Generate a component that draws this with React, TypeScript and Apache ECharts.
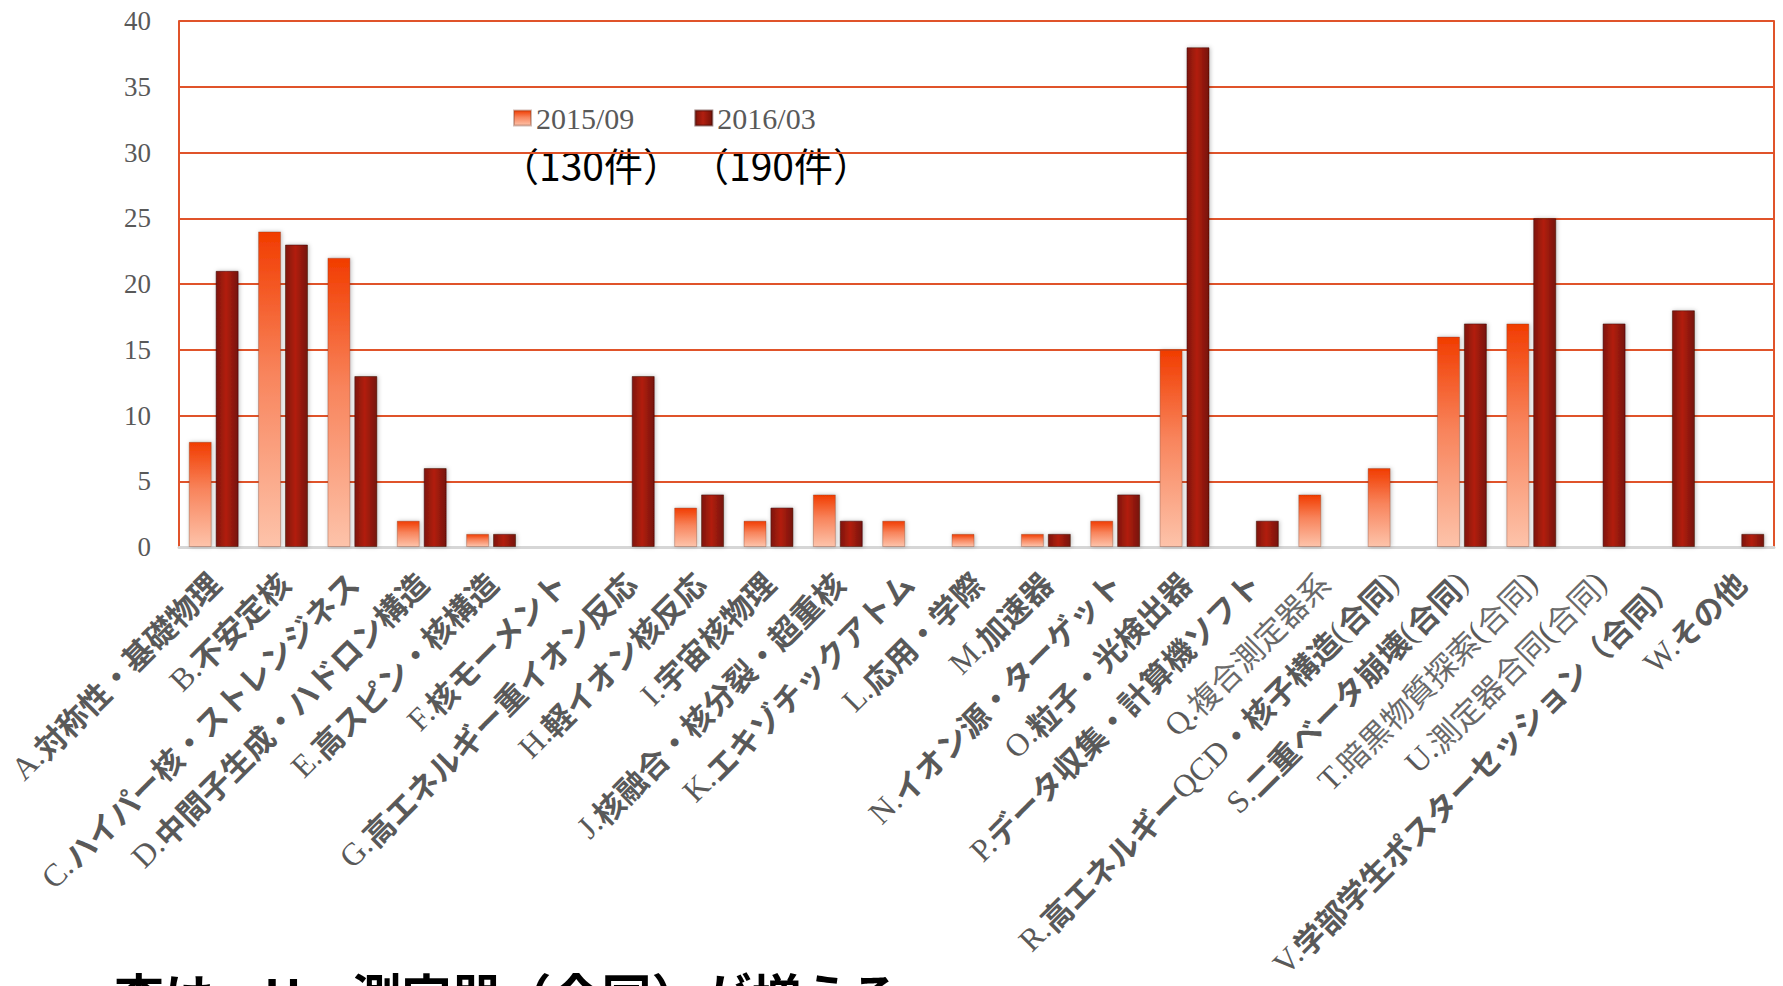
import React, { useEffect, useRef } from "react";
import * as echarts from "echarts";

const categories = [
  "A.対称性・基礎物理",
  "B.不安定核",
  "C.ハイパー核・ストレンジネス",
  "D.中間子生成・ハドロン構造",
  "E.高スピン・核構造",
  "F.核モーメント",
  "G.高エネルギー重イオン反応",
  "H.軽イオン核反応",
  "I.宇宙核物理",
  "J.核融合・核分裂・超重核",
  "K.エキゾチックアトム",
  "L.応用・学際",
  "M.加速器",
  "N.イオン源・ターゲット",
  "O.粒子・光検出器",
  "P.データ収集・計算機ソフト",
  "Q.複合測定器系",
  "R.高エネルギーQCD・核子構造(合同)",
  "S.二重ベータ崩壊(合同)",
  "T.暗黒物質探索(合同)",
  "U.測定器合同(合同)",
  "V.学部学生ポスターセッション（合同）",
  "W.その他",
];

const thinLabels = ["Q", "T", "U"];

const series2015 = [8, 24, 22, 2, 1, 0, 0, 3, 2, 4, 2, 1, 1, 2, 15, 0, 4, 6, 16, 17, 0, 0, 0];
const series2016 = [21, 23, 13, 6, 1, 0, 13, 4, 3, 2, 0, 0, 1, 4, 38, 2, 0, 0, 17, 25, 17, 18, 1];

const seriesNames = ["2015/09", "2016/03"];
const countLabels = ["（130件）", "（190件）"];
const bottomNote = "査は、U．測定器（合同）が増える";

const yTicks = { min: 0, max: 40, interval: 5 };

const GRID_COLOR = "#e0532a";
const TEXT_GRAY = "#595959";

export default function App() {
  const ref = useRef<HTMLDivElement>(null);

  useEffect(() => {
    document.body.style.margin = "0";
    if (!ref.current) return;
    const chart = echarts.init(ref.current, undefined, { renderer: "svg" });

    const lightGrad = new echarts.graphic.LinearGradient(0, 0, 0, 1, [
      { offset: 0, color: "#f13c00" },
      { offset: 0.45, color: "#f8845c" },
      { offset: 1, color: "#fdc3aa" },
    ]);
    const darkGrad = new echarts.graphic.LinearGradient(0, 0, 1, 0, [
      { offset: 0, color: "#7e150a" },
      { offset: 0.45, color: "#b21f10" },
      { offset: 1, color: "#751208" },
    ]);

    const fmt = (v: string) => {
      const style = thinLabels.includes(v[0]) ? "t" : "b";
      return v
        .split(/([\x00-\x7F]+)/)
        .filter((s) => s.length > 0)
        .map((s) => (/^[\x00-\x7F]+$/.test(s) ? `{l|${s}}` : `{${style}|${s}}`))
        .join("");
    };

    chart.setOption({
      animation: false,
      backgroundColor: "#ffffff",
      grid: { left: 179, right: 9, top: 21, bottom: 439, containLabel: false },
      legend: {
        left: 508,
        top: 98,
        icon: "rect",
        itemWidth: 17,
        itemHeight: 15,
        itemGap: 60,
        textStyle: { color: TEXT_GRAY, fontFamily: "Liberation Serif", fontSize: 30 },
        data: seriesNames,
      },
      xAxis: {
        type: "category",
        data: categories,
        axisLine: { show: true, lineStyle: { color: "#d6d6d6", width: 3 } },
        axisTick: { show: false },
        axisLabel: {
          interval: 0,
          rotate: 45,
          margin: 30,
          formatter: fmt,
          rich: {
            l: { fontFamily: "Liberation Serif", fontSize: 32, color: TEXT_GRAY },
            b: { fontFamily: "Noto Sans CJK JP", fontWeight: "bold", fontSize: 31, color: TEXT_GRAY },
            t: { fontFamily: "Noto Sans CJK JP", fontWeight: "normal", fontSize: 31, color: "#6a6a6a" },
          },
        },
      },
      yAxis: [
        {
          type: "value",
          min: yTicks.min,
          max: yTicks.max,
          interval: yTicks.interval,
          axisLine: { show: true, lineStyle: { color: GRID_COLOR, width: 2 } },
          axisTick: { show: false },
          axisLabel: { margin: 28, color: TEXT_GRAY, fontFamily: "Liberation Serif", fontSize: 27 },
          splitLine: { show: true, lineStyle: { color: GRID_COLOR, width: 2 } },
        },
        {
          type: "value",
          position: "right",
          min: yTicks.min,
          max: yTicks.max,
          interval: yTicks.interval,
          axisLine: { show: true, lineStyle: { color: GRID_COLOR, width: 2 } },
          axisTick: { show: false },
          axisLabel: { show: false },
          splitLine: { show: false },
        },
      ],
      series: [
        {
          name: seriesNames[0],
          type: "bar",
          data: series2015,
          barWidth: 23,
          barGap: "17%",
          itemStyle: {
            color: lightGrad,
            borderColor: "rgba(120,60,40,0.35)",
            borderWidth: 1,
            shadowBlur: 4,
            shadowColor: "rgba(0,0,0,0.25)",
            shadowOffsetX: 1,
          },
        },
        {
          name: seriesNames[1],
          type: "bar",
          data: series2016,
          barWidth: 23,
          barGap: "17%",
          itemStyle: {
            color: darkGrad,
            borderColor: "rgba(60,10,5,0.5)",
            borderWidth: 1,
            shadowBlur: 4,
            shadowColor: "rgba(0,0,0,0.25)",
            shadowOffsetX: 1,
          },
        },
      ],
      graphic: [
        {
          type: "text",
          left: 500,
          top: 144,
          style: { text: countLabels[0], font: '39px "Noto Sans CJK JP"', fill: "#000" },
        },
        {
          type: "text",
          left: 690,
          top: 144,
          style: { text: countLabels[1], font: '39px "Noto Sans CJK JP"', fill: "#000" },
        },
        {
          type: "text",
          left: 114,
          top: 969,
          style: { text: bottomNote, font: 'bold 50px "Noto Sans CJK JP"', fill: "#000" },
        },
      ],
    });

    return () => chart.dispose();
  }, []);

  return (
    <div
      ref={ref}
      style={{ position: "fixed", left: 0, top: 0, width: 1783, height: 986, overflow: "hidden" }}
    />
  );
}
